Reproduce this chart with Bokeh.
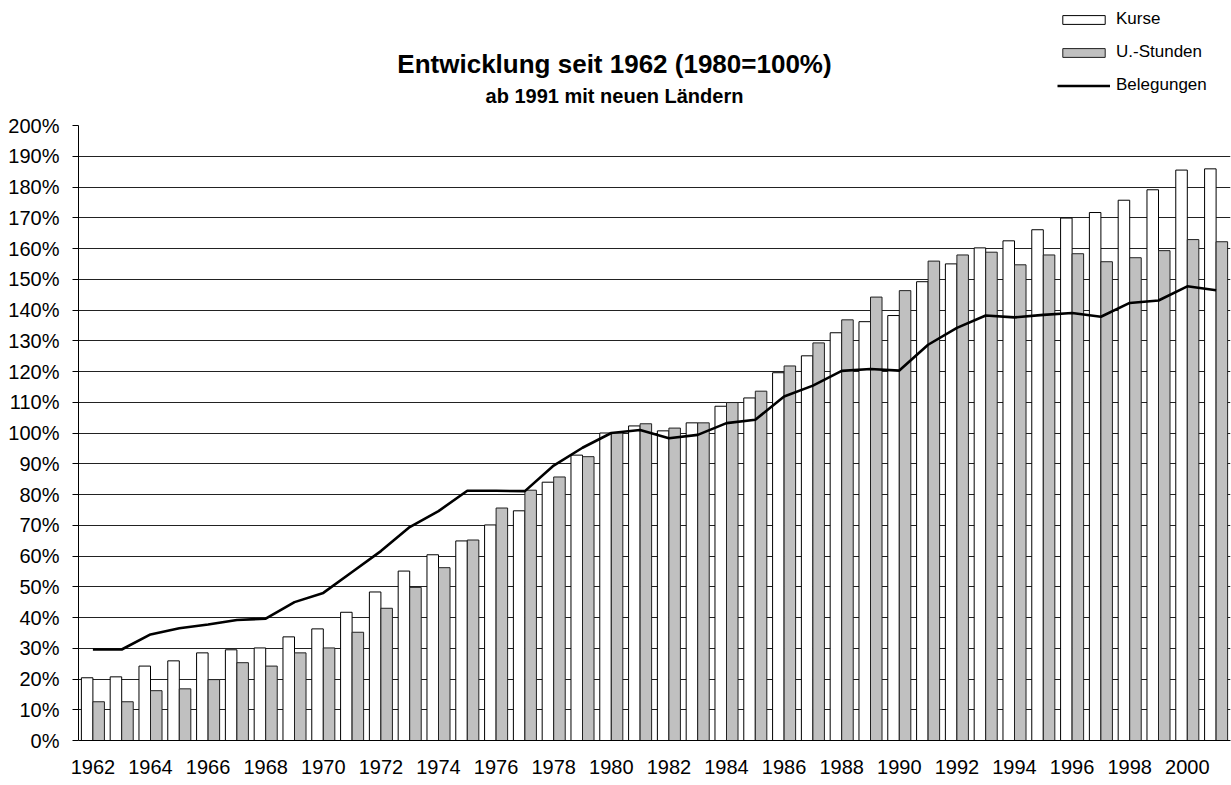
from bokeh.plotting import figure
from bokeh.layouts import column
from bokeh.models import (ColumnDataSource, Range1d, FixedTicker, PrintfTickFormatter,
                          Legend, LegendItem, Label)
from bokeh.transform import dodge
from bokeh.embed import file_html
from bokeh.resources import INLINE

years = list(range(1962, 2002))
kurse = [20.4, 20.7, 24.2, 25.9, 28.5, 29.5, 30.1, 33.7, 36.3, 41.7,
         48.3, 55.1, 60.4, 64.9, 70.1, 74.7, 84.0, 92.8, 100.0, 102.3,
         100.7, 103.3, 108.7, 111.4, 119.6, 125.1, 132.6, 136.2, 138.2, 149.2,
         155.0, 160.2, 162.5, 166.1, 169.9, 171.7, 175.7, 179.1, 185.5, 185.9]
stunden = [12.6, 12.6, 16.2, 16.8, 19.8, 25.3, 24.2, 28.5, 30.1, 35.2,
           43.0, 49.8, 56.2, 65.2, 75.6, 81.4, 85.7, 92.3, 100.0, 103.0,
           101.6, 103.3, 109.9, 113.6, 121.8, 129.3, 136.8, 144.2, 146.3, 155.9,
           157.9, 158.8, 154.7, 157.9, 158.3, 155.7, 157.0, 159.3, 162.9, 162.2]
belegungen = [29.6, 29.6, 34.5, 36.5, 37.7, 39.2, 39.6, 45.0, 48.0, 54.8,
              61.6, 69.4, 74.6, 81.2, 81.2, 81.1, 89.4, 95.2, 100.0, 101.0,
              98.3, 99.4, 103.2, 104.3, 111.9, 115.4, 120.2, 120.8, 120.3, 128.7,
              134.2, 138.2, 137.6, 138.4, 139.0, 137.8, 142.3, 143.1, 147.7, 146.4]
x_tick_years = list(range(1962, 2001, 2))
y_ticks = list(range(0, 201, 10))

title_text = "Entwicklung seit 1962 (1980=100%)"
subtitle_text = "ab 1991 mit neuen Ländern"
series_names = ["Kurse", "U.-Stunden", "Belegungen"]

FONT = "Liberation Sans"
KURSE_FILL = "white"
STUNDEN_FILL = "#C0C0C0"

W = 1231
HEADER_H = 113
MAIN_H = 785 - HEADER_H
LEFT = 78
RIGHT = 1

# ---------------- header: titles and legend ----------------
head = figure(width=W, height=HEADER_H, output_backend="svg", toolbar_location=None,
              x_range=Range1d(LEFT, W - RIGHT), y_range=Range1d(HEADER_H, 0),
              min_border_left=LEFT, min_border_right=RIGHT,
              min_border_top=0, min_border_bottom=0)
head.axis.visible = False
head.grid.visible = False
head.outline_line_color = None
head.border_fill_color = "white"
head.background_fill_color = "white"

head.add_layout(Label(x=614, y=63, text=title_text, text_align="center",
                      text_baseline="middle", text_font=FONT, text_font_style="bold",
                      text_font_size="26px", text_color="black"))
head.add_layout(Label(x=614, y=95, text=subtitle_text, text_align="center",
                      text_baseline="middle", text_font=FONT, text_font_style="bold",
                      text_font_size="20px", text_color="black"))

nan = float("nan")
legend_src = ColumnDataSource(dict(x=[nan], top=[nan], y=[nan]))
d_k = head.vbar(x="x", top="top", width=1, source=legend_src,
                fill_color=KURSE_FILL, line_color="black", line_width=1)
d_u = head.vbar(x="x", top="top", width=1, source=legend_src,
                fill_color=STUNDEN_FILL, line_color="#202020", line_width=1)
d_l = head.line(x="x", y="y", source=legend_src, line_color="black", line_width=2.6)

legend = Legend(items=[LegendItem(label=series_names[0], renderers=[d_k]),
                       LegendItem(label=series_names[1], renderers=[d_u]),
                       LegendItem(label=series_names[2], renderers=[d_l])],
                location=(1057 - LEFT, 18), orientation="vertical",
                glyph_width=53, glyph_height=11, label_height=20, spacing=13,
                padding=0, margin=0, border_line_color=None, background_fill_alpha=0,
                label_standoff=6, label_text_font=FONT, label_text_font_size="17px",
                label_text_color="black")
head.add_layout(legend, "center")

# ---------------- main chart ----------------
src = ColumnDataSource(dict(year=years, kurse=kurse, stunden=stunden, beleg=belegungen))

p = figure(width=W, height=MAIN_H, output_backend="svg", toolbar_location=None,
           x_range=Range1d(1961.5, 2001.5), y_range=Range1d(0, 200),
           min_border_left=LEFT, min_border_right=RIGHT, min_border_top=12,
           min_border_bottom=45)
p.outline_line_color = None
p.background_fill_color = "white"
p.border_fill_color = "white"

p.xgrid.visible = False
p.ygrid.ticker = FixedTicker(ticks=y_ticks)
p.ygrid.grid_line_color = "#222222"
p.ygrid.grid_line_width = 1

r_k = p.vbar(x=dodge("year", -0.2, range=p.x_range), top="kurse", width=0.4, source=src,
             fill_color=KURSE_FILL, line_color="black", line_width=1)
r_u = p.vbar(x=dodge("year", 0.2, range=p.x_range), top="stunden", width=0.4, source=src,
             fill_color=STUNDEN_FILL, line_color="#202020", line_width=1)
r_l = p.line(x="year", y="beleg", source=src, line_color="black", line_width=2.6)

yax = p.yaxis[0]
yax.ticker = FixedTicker(ticks=y_ticks)
yax.formatter = PrintfTickFormatter(format="%d%%")
yax.minor_tick_line_color = None
yax.major_tick_in = 0
yax.major_tick_out = 6
yax.major_label_standoff = 13
yax.axis_line_color = "black"
yax.major_label_text_font = FONT
yax.major_label_text_font_size = "20px"
yax.major_label_text_color = "black"

xax = p.xaxis[0]
xax.ticker = FixedTicker(ticks=x_tick_years)
xax.major_tick_in = 0
xax.major_tick_out = 0
xax.minor_tick_line_color = None
xax.major_label_standoff = 19
xax.axis_line_color = "black"
xax.major_label_text_font = FONT
xax.major_label_text_font_size = "20px"
xax.major_label_text_color = "black"

layout = column(head, p, spacing=0)
open("out.html", "w").write(file_html(layout, INLINE))
